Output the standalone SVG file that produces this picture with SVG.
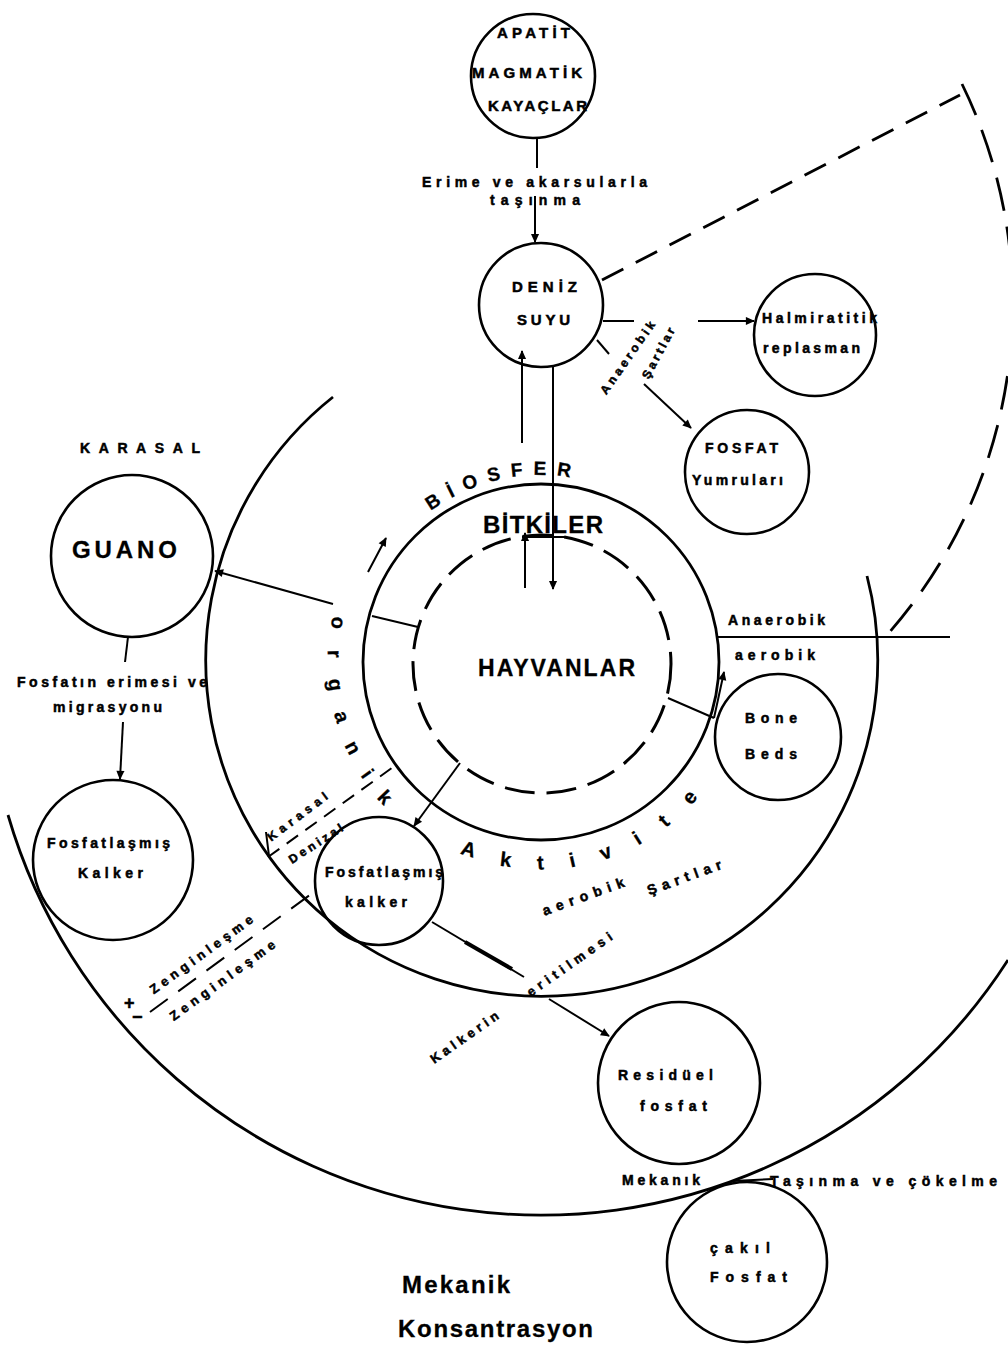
<svg xmlns="http://www.w3.org/2000/svg" width="1008" height="1348" viewBox="0 0 1008 1348">
<style>
.c{fill:none;stroke:#000;stroke-width:2.6}
.big{fill:none;stroke:#000;stroke-width:2.8}
.l{fill:none;stroke:#000;stroke-width:2}
.a{fill:none;stroke:#000;stroke-width:2;marker-end:url(#ah)}
.d{fill:none;stroke:#000;stroke-width:2.8;stroke-dasharray:24 14}
.t{font-family:"Liberation Sans",Arial,sans-serif;font-weight:bold;font-size:14px;fill:#000;stroke:#000;stroke-width:0.5}
.s{font-size:14px}
.m{font-size:15px}
.L{font-size:24px;stroke-width:0.3}
</style>
<defs>
<marker id="ah" viewBox="0 0 10 10" refX="9" refY="5" markerWidth="11" markerHeight="9" markerUnits="userSpaceOnUse" orient="auto"><path d="M0,0.5 L10,5 L0,9.5 z" fill="#000"/></marker>
<path id="pBio" d="M 408.8 529.8 A 187 187 0 0 1 605 486.3"/>
<path id="pOrg" d="M 333.5 614.1 A 213 213 0 0 0 418.8 836.5"/>
<path id="pAkt" d="M 443.8 844.8 A 207 207 0 0 0 710.6 780.7"/>
</defs>
<rect width="1008" height="1348" fill="#fff"/>

<g id="zones">
<path class="big" d="M 333 397 A 336 336 0 1 0 867 576"/>
<path class="big" d="M 8 815 A 555 555 0 0 0 1008 960"/>
<path class="big" style="stroke-dasharray:34 16" d="M 962 84 A 500 500 0 0 1 887 635"/>
<circle id="biosfer-ring" class="big" cx="541" cy="662" r="178"/>
<circle id="hayvanlar-ring" class="big" style="stroke-dasharray:30 12;stroke-width:3" cx="542" cy="664" r="129"/>
</g>

<g id="connectors">
<path class="l" d="M537 139 L537 168"/>
<path class="a" d="M535 196 L535 242"/>
<path class="a" d="M553 367 L553 589"/>
<path class="a" d="M522 443 L522 351"/>
<path class="a" d="M525 588 L525 533"/>
<path class="l" d="M522 537 L567 537"/>
<path class="l" d="M418 627 L372 616"/>
<path class="a" d="M333 604 L215 571"/>
<path class="a" d="M368 572 L386 538"/>
<path class="l" d="M668 698 L714 718"/>
<path class="a" d="M714 718 L724 672"/>
<path class="a" d="M460 763 L414 826"/>
<path class="l" d="M432 922 L524 977"/>
<path class="l" style="stroke-width:4" d="M465 942 L512 969"/>
<path class="a" d="M549 999 L609 1036"/>
<path class="l" d="M603 321 L634 321"/>
<path class="a" d="M698 321 L754 321"/>
<path class="l" d="M597 340 L609 354"/>
<path class="a" d="M644 384 L691 428"/>
<path class="l" d="M128 637 L125 662"/>
<path class="a" d="M123 722 L120 779"/>
<path class="l" d="M718 637 L950 637"/>
<path class="l" d="M733 1181 L773 1179"/>
<path class="d" d="M602 280 L960 95"/>
<path class="l" style="stroke-dasharray:14 9" d="M268 857 L396 765"/>
<path class="l" d="M266 832 L269 856"/>
<path class="l" style="stroke-dasharray:22 13" d="M150 1012 L318 889"/>
</g>

<g id="apatit">
<circle class="c" cx="533" cy="76" r="62"/>
<text class="t m" x="497" y="38" textLength="73" lengthAdjust="spacing">APATİT</text>
<text class="t m" x="472" y="78" textLength="110" lengthAdjust="spacing">MAGMATİK</text>
<text class="t m" x="488" y="111" textLength="99" lengthAdjust="spacing">KAYAÇLAR</text>
</g>
<g id="label-erime">
<text class="t" x="422" y="187" textLength="225" lengthAdjust="spacing">Erime ve akarsularla</text>
<text class="t" x="490" y="205" textLength="90" lengthAdjust="spacing">taşınma</text>
</g>
<g id="deniz-suyu">
<circle class="c" cx="541" cy="305" r="62"/>
<text class="t m" x="512" y="292" textLength="65" lengthAdjust="spacing">DENİZ</text>
<text class="t m" x="517" y="325" textLength="53" lengthAdjust="spacing">SUYU</text>
</g>
<g id="halmiratitik">
<circle class="c" cx="815" cy="335" r="61"/>
<text class="t" x="762" y="323" textLength="115" lengthAdjust="spacing">Halmiratitik</text>
<text class="t" x="763" y="353" textLength="97" lengthAdjust="spacing">replasman</text>
</g>
<g id="anaerobik-sartlar">
<text class="t s" style="font-size:12px" text-anchor="middle" transform="translate(631 360) rotate(-55)" textLength="86" lengthAdjust="spacing">Anaerobik</text>
<text class="t s" style="font-size:12px" text-anchor="middle" transform="translate(662 355) rotate(-62)" textLength="56" lengthAdjust="spacing">Şartlar</text>
</g>
<g id="fosfat-yumrulari">
<circle class="c" cx="747" cy="472" r="62"/>
<text class="t" x="705" y="453" textLength="73" lengthAdjust="spacing">FOSFAT</text>
<text class="t" x="692" y="485" textLength="91" lengthAdjust="spacing">Yumruları</text>
</g>
<g id="karasal">
<text class="t" x="80" y="453" textLength="120" lengthAdjust="spacing">KARASAL</text>
</g>
<g id="guano">
<circle class="c" cx="132" cy="556" r="81"/>
<text class="t" style="font-size:24px;stroke-width:0.3" x="72" y="558" textLength="105" lengthAdjust="spacing">GUANO</text>
</g>
<g id="label-fosfatin">
<text class="t s" x="17" y="687" textLength="190" lengthAdjust="spacing">Fosfatın erimesi ve</text>
<text class="t s" x="53" y="712" textLength="109" lengthAdjust="spacing">migrasyonu</text>
</g>
<g id="fosfatlasmis-kalker-karasal">
<circle class="c" cx="113" cy="860" r="80"/>
<text class="t s" x="47" y="848" textLength="123" lengthAdjust="spacing">Fosfatlaşmış</text>
<text class="t s" x="78" y="878" textLength="65" lengthAdjust="spacing">Kalker</text>
</g>
<g id="biosfer-labels">
<text class="t" style="font-size:19px;letter-spacing:10.4px;stroke-width:0.3"><textPath href="#pBio" startOffset="29">BİOSFER</textPath></text>
<text class="t L" x="483" y="533" textLength="120" lengthAdjust="spacing">BİTKİLER</text>
<text class="t" style="font-size:23px;stroke-width:0.3" x="478" y="676" textLength="157" lengthAdjust="spacing">HAYVANLAR</text>
<text class="t" style="font-size:20px;letter-spacing:22px;stroke-width:0.3"><textPath href="#pOrg" startOffset="2">organik</textPath></text>
<text class="t" style="font-size:20px;letter-spacing:27px;stroke-width:0.3"><textPath href="#pAkt" startOffset="18">Aktivite</textPath></text>
</g>
<g id="anaerobik-aerobik">
<text class="t s" x="728" y="625" textLength="97" lengthAdjust="spacing">Anaerobik</text>
<text class="t s" x="735" y="660" textLength="80" lengthAdjust="spacing">aerobik</text>
</g>
<g id="bone-beds">
<circle class="c" cx="778" cy="737" r="63"/>
<text class="t" x="745" y="723" textLength="52" lengthAdjust="spacing">Bone</text>
<text class="t" x="745" y="759" textLength="52" lengthAdjust="spacing">Beds</text>
</g>
<g id="karasal-denizal">
<text class="t s" style="font-size:12px" text-anchor="middle" transform="translate(300 820) rotate(-37)" textLength="72" lengthAdjust="spacing">Karasal</text>
<text class="t s" style="font-size:12px" text-anchor="middle" transform="translate(318 847) rotate(-33)" textLength="62" lengthAdjust="spacing">Denizal</text>
</g>
<g id="fosfatlasmis-kalker-denizal">
<circle class="c" cx="379" cy="881" r="64"/>
<text class="t s" x="325" y="877" textLength="118" lengthAdjust="spacing">Fosfatlaşmış</text>
<text class="t s" x="345" y="907" textLength="62" lengthAdjust="spacing">kalker</text>
</g>
<g id="zenginlesme">
<text class="t" style="font-size:18px" x="124" y="1009">+</text>
<text class="t" style="font-size:18px" x="132" y="1023">−</text>
<text class="t s" style="font-size:13px" text-anchor="middle" transform="translate(204 958) rotate(-36)" textLength="124" lengthAdjust="spacing">Zenginleşme</text>
<text class="t s" style="font-size:13px" text-anchor="middle" transform="translate(225 984) rotate(-36)" textLength="127" lengthAdjust="spacing">Zenginleşme</text>
</g>
<g id="aerobik-sartlar">
<text class="t s" text-anchor="middle" transform="translate(585 901) rotate(-20)" textLength="86" lengthAdjust="spacing">aerobik</text>
<text class="t s" text-anchor="middle" transform="translate(686 882) rotate(-20)" textLength="78" lengthAdjust="spacing">Şartlar</text>
</g>
<g id="kalkerin-eritilmesi">
<text class="t s" style="font-size:13px" text-anchor="middle" transform="translate(572 968) rotate(-35)" textLength="101" lengthAdjust="spacing">eritilmesi</text>
<text class="t s" style="font-size:13px" text-anchor="middle" transform="translate(467 1041) rotate(-35)" textLength="80" lengthAdjust="spacing">Kalkerin</text>
</g>
<g id="residuel-fosfat">
<circle class="c" cx="679" cy="1083" r="81"/>
<text class="t" x="618" y="1080" textLength="95" lengthAdjust="spacing">Residüel</text>
<text class="t" x="640" y="1111" textLength="67" lengthAdjust="spacing">fosfat</text>
</g>
<g id="mekanik-tasinma">
<text class="t s" x="622" y="1185" textLength="78" lengthAdjust="spacing">Mekanık</text>
<text class="t s" x="770" y="1186" textLength="227" lengthAdjust="spacing">Taşınma ve çökelme</text>
</g>
<g id="cakil-fosfat">
<circle class="c" cx="747" cy="1262" r="80"/>
<text class="t s" x="710" y="1253" textLength="60" lengthAdjust="spacing">çakıl</text>
<text class="t s" x="710" y="1282" textLength="77" lengthAdjust="spacing">Fosfat</text>
</g>
<g id="mekanik-konsantrasyon">
<text class="t L" x="402" y="1293" textLength="108" lengthAdjust="spacing">Mekanik</text>
<text class="t L" x="398" y="1337" textLength="195" lengthAdjust="spacing">Konsantrasyon</text>
</g>
</svg>
